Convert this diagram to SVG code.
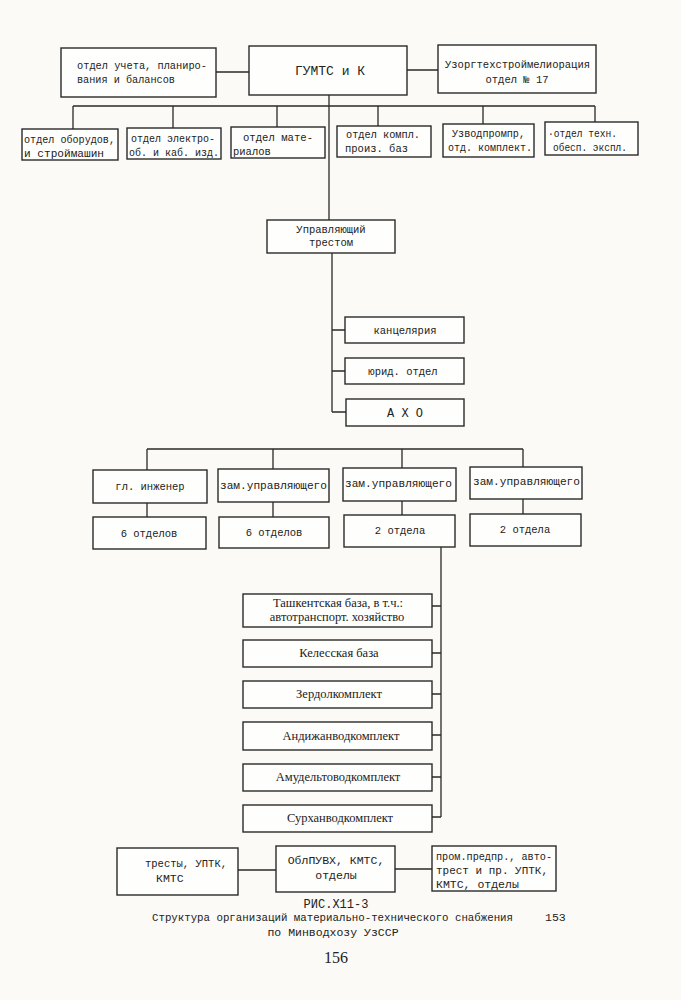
<svg xmlns="http://www.w3.org/2000/svg" width="681" height="1000" viewBox="0 0 681 1000">
<style>
.bg{fill:#fbfaf6}
.box{fill:#fefefc;stroke:#2a2a2a;stroke-width:1.4}
.ln{fill:none;stroke:#2a2a2a;stroke-width:1.3}
text{font-family:"Liberation Mono","DejaVu Sans Mono",monospace;font-size:10.5px;fill:#222}
.c{text-anchor:middle}
.big{font-size:13px}
.ser{font-family:"Liberation Serif","DejaVu Serif",serif;font-size:12.5px}
.bot{font-size:11.5px}
.cap{font-size:11.5px}
.pg{font-family:"Liberation Serif","DejaVu Serif",serif;font-size:16px}
</style>
<rect class="bg" x="0" y="0" width="681" height="1000"/>

<g id="connectors">
<path class="ln" d="M216 72H249M407 70H438"/>
<path class="ln" d="M73 106H595M73 106V129M173 106V128M277 106V127M378 106V126M483 106V124M595 106V122"/>
<path class="ln" d="M329 95V220"/>
<path class="ln" d="M332 253V412M332 330H345M332 371H345M332 412H346"/>
<path class="ln" d="M147 449H523M147 449V470M273 449V469M402 449V468M523 449V467"/>
<path class="ln" d="M147 503V517M273 502V517M402 501V515M523 499V514"/>
<path class="ln" d="M441 547V817M432 606H441M432 653H441M432 694H441M432 735H441M432 777H441M432 817H441"/>
<path class="ln" d="M238 870H276M395 869H432"/>
</g>

<g id="n-uchet"><rect class="box" x="61" y="48" width="155" height="49"/>
<text x="77" y="69" textLength="130" lengthAdjust="spacingAndGlyphs">отдел учета, планиро-</text><text x="77" y="83" textLength="98" lengthAdjust="spacingAndGlyphs">вания и балансов</text></g>
<g id="n-gumts"><rect class="box" x="249" y="46" width="158" height="49"/>
<text class="c big" x="330" y="75">ГУМТС и К</text></g>
<g id="n-uzorg"><rect class="box" x="438" y="45" width="158" height="48"/>
<text x="445" y="68" textLength="145" lengthAdjust="spacingAndGlyphs">Узоргтехстроймелиорация</text><text class="c" x="517" y="83">отдел № 17</text></g>

<g id="n-obor"><rect class="box" x="22" y="129" width="96" height="31"/>
<text x="24" y="143" textLength="91" lengthAdjust="spacingAndGlyphs">отдел оборудов,</text><text x="24" y="157" textLength="80" lengthAdjust="spacingAndGlyphs">и строймашин</text></g>
<g id="n-elektro"><rect class="box" x="127" y="128" width="94" height="31"/>
<text x="131" y="142" textLength="84" lengthAdjust="spacingAndGlyphs">отдел электро-</text><text x="129" y="156" textLength="90" lengthAdjust="spacingAndGlyphs">об. и каб. изд.</text></g>
<g id="n-mater"><rect class="box" x="231" y="127" width="94" height="31"/>
<text x="243" y="141" textLength="70" lengthAdjust="spacingAndGlyphs">отдел мате-</text><text x="233" y="155">риалов</text></g>
<g id="n-kompl"><rect class="box" x="337" y="126" width="94" height="31"/>
<text x="346" y="138" textLength="74" lengthAdjust="spacingAndGlyphs">отдел компл.</text><text x="345" y="152">произ. баз</text></g>
<g id="n-uzvod"><rect class="box" x="443" y="124" width="91" height="33"/>
<text x="452" y="137" textLength="73" lengthAdjust="spacingAndGlyphs">Узводпромпр,</text><text x="448" y="151" textLength="84" lengthAdjust="spacingAndGlyphs">отд. комплект.</text></g>
<g id="n-tehn"><rect class="box" x="545" y="122" width="93" height="33"/>
<text x="548" y="137" textLength="69" lengthAdjust="spacingAndGlyphs">·отдел техн.</text><text x="553" y="151" textLength="74" lengthAdjust="spacingAndGlyphs">обесп. экспл.</text></g>

<g id="n-uprav"><rect class="box" x="267" y="220" width="128" height="33"/>
<text class="c" x="331" y="233">Управляющий</text><text class="c" x="331" y="246">трестом</text></g>

<g id="n-kanc"><rect class="box" x="345" y="317" width="119" height="26"/>
<text class="c" x="405" y="334">канцелярия</text></g>
<g id="n-jurid"><rect class="box" x="345" y="358" width="119" height="26"/>
<text class="c" x="403" y="375">юрид. отдел</text></g>
<g id="n-aho"><rect class="box" x="346" y="399" width="118" height="27"/>
<text class="c" x="405" y="417" style="font-size:12px">А Х О</text></g>

<g id="n-glinzh"><rect class="box" x="93" y="470" width="114" height="33"/>
<text class="c" x="150" y="490">гл. инженер</text></g>
<g id="n-zam1"><rect class="box" x="218" y="469" width="111" height="33"/>
<text x="220" y="489" textLength="107" lengthAdjust="spacingAndGlyphs">зам.управляющего</text></g>
<g id="n-zam2"><rect class="box" x="343" y="468" width="113" height="33"/>
<text x="345" y="487" textLength="107" lengthAdjust="spacingAndGlyphs">зам.управляющего</text></g>
<g id="n-zam3"><rect class="box" x="470" y="467" width="112" height="32"/>
<text x="473" y="485" textLength="107" lengthAdjust="spacingAndGlyphs">зам.управляющего</text></g>

<g id="n-6otd1"><rect class="box" x="93" y="517" width="113" height="32"/>
<text class="c" x="149" y="537">6 отделов</text></g>
<g id="n-6otd2"><rect class="box" x="219" y="517" width="110" height="31"/>
<text class="c" x="274" y="536">6 отделов</text></g>
<g id="n-2otd1"><rect class="box" x="344" y="515" width="111" height="32"/>
<text class="c" x="400" y="534">2 отдела</text></g>
<g id="n-2otd2"><rect class="box" x="470" y="514" width="111" height="32"/>
<text class="c" x="525" y="533">2 отдела</text></g>

<g id="n-tashkent"><rect class="box" x="243" y="594" width="189" height="33"/>
<text class="c ser" x="338" y="607">Ташкентская база, в т.ч.:</text><text class="c ser" x="337" y="621">автотранспорт. хозяйство</text></g>
<g id="n-keles"><rect class="box" x="243" y="640" width="189" height="27"/>
<text class="c ser" x="339" y="657">Келесская база</text></g>
<g id="n-zerdol"><rect class="box" x="243" y="681" width="189" height="27"/>
<text class="c ser" x="339" y="698">Зердолкомплект</text></g>
<g id="n-andizh"><rect class="box" x="243" y="722" width="189" height="28"/>
<text class="c ser" x="341" y="740">Андижанводкомплект</text></g>
<g id="n-amudel"><rect class="box" x="243" y="764" width="189" height="27"/>
<text class="c ser" x="338" y="781">Амудельтоводкомплект</text></g>
<g id="n-surhan"><rect class="box" x="243" y="805" width="189" height="27"/>
<text class="c ser" x="340" y="822">Сурханводкомплект</text></g>

<g id="n-tresty"><rect class="box" x="117" y="848" width="121" height="47"/>
<text class="bot" x="145" y="867" textLength="82" lengthAdjust="spacingAndGlyphs">тресты, УПТК,</text><text class="bot" x="156" y="882">КМТС</text></g>
<g id="n-oblpuvh"><rect class="box" x="276" y="846" width="119" height="46"/>
<text class="c bot" x="336" y="864">ОблПУВХ, КМТС,</text><text class="c bot" x="336" y="879">отделы</text></g>
<g id="n-prom"><rect class="box" x="432" y="846" width="124" height="45"/>
<text class="bot" x="436" y="860" textLength="116" lengthAdjust="spacingAndGlyphs">пром.предпр., авто-</text><text class="bot" x="436" y="874" textLength="112" lengthAdjust="spacingAndGlyphs">трест и пр. УПТК,</text><text class="bot" x="436" y="888">КМТС, отделы</text></g>

<g id="caption">
<text class="c cap" x="336" y="908" style="font-size:12px">РИС.Х11-3</text>
<text class="cap" x="152" y="921" textLength="361" lengthAdjust="spacingAndGlyphs">Структура организаций материально-технического снабжения</text>
<text class="cap" x="545" y="921">153</text>
<text class="c cap" x="333" y="936">по Минводхозу УзССР</text>
<text class="c pg" x="336" y="963">156</text>
</g>
</svg>
